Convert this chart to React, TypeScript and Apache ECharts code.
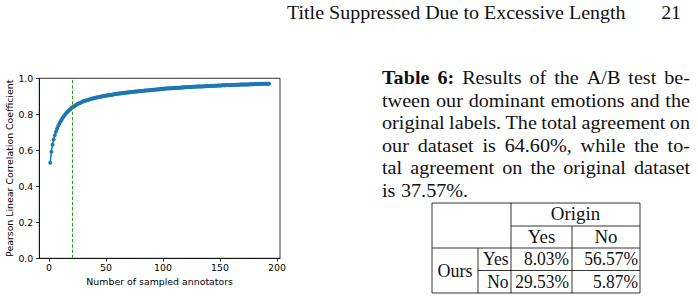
import React, { useEffect, useRef } from "react";
import * as echarts from "echarts";

// ---- chart data ----
const correlation: number[] = [
  0.531, 0.592, 0.631, 0.660, 0.683, 0.703, 0.720, 0.735, 0.748, 0.760,
  0.771, 0.781, 0.790, 0.798, 0.806, 0.813, 0.819, 0.825, 0.831, 0.836,
  0.841, 0.845, 0.849, 0.853, 0.857, 0.860, 0.863, 0.866, 0.869, 0.872,
  0.874, 0.876, 0.878, 0.880, 0.882, 0.884, 0.886, 0.888, 0.889, 0.891,
  0.892, 0.894, 0.895, 0.896, 0.898, 0.899, 0.900, 0.901, 0.902, 0.904,
  0.905, 0.906, 0.907, 0.908, 0.909, 0.910, 0.911, 0.912, 0.913, 0.914,
  0.915, 0.916, 0.917, 0.917, 0.918, 0.919, 0.920, 0.921, 0.921, 0.922,
  0.923, 0.924, 0.924, 0.925, 0.926, 0.926, 0.927, 0.928, 0.928, 0.929,
  0.930, 0.930, 0.931, 0.932, 0.932, 0.933, 0.933, 0.934, 0.935, 0.935,
  0.936, 0.936, 0.937, 0.938, 0.938, 0.939, 0.939, 0.940, 0.941, 0.942,
  0.942, 0.943, 0.943, 0.944, 0.944, 0.945, 0.945, 0.945, 0.946, 0.946,
  0.947, 0.947, 0.948, 0.948, 0.948, 0.949, 0.949, 0.950, 0.950, 0.950,
  0.951, 0.951, 0.952, 0.952, 0.952, 0.953, 0.953, 0.953, 0.954, 0.954,
  0.954, 0.955, 0.955, 0.955, 0.956, 0.956, 0.956, 0.957, 0.957, 0.957,
  0.958, 0.958, 0.958, 0.958, 0.959, 0.959, 0.959, 0.960, 0.960, 0.960,
  0.960, 0.961, 0.961, 0.961, 0.961, 0.962, 0.962, 0.962, 0.962, 0.963,
  0.963, 0.963, 0.963, 0.964, 0.964, 0.964, 0.964, 0.965, 0.965, 0.965,
  0.965, 0.966, 0.966, 0.966, 0.966, 0.967, 0.967, 0.967, 0.967, 0.968,
  0.968, 0.968, 0.968, 0.969, 0.969, 0.969, 0.969, 0.969, 0.970, 0.970,
  0.970, 0.970, 0.970,
];
const firstAnnotatorCount = 1;
const thresholdAnnotators = 20;
const xTickValues = [0, 50, 100, 150, 200];
const yTickValues = [0, 0.2, 0.4, 0.6, 0.8, 1.0];
const xAxisTitle = "Number of sampled annotators";
const yAxisTitle = "Pearson Linear Correlation Coefficient";

// ---- page text ----
const headerTitle = "Title Suppressed Due to Excessive Length";
const headerPage = "21";
const captionLead = "Table 6:";
const captionLines = [
  "Results of the A/B test be-",
  "tween our dominant emotions and the",
  "original labels. The total agreement on",
  "our dataset is 64.60%, while the to-",
  "tal agreement on the original dataset",
  "is 37.57%.",
];
const tableColGroup = "Origin";
const tableCols = ["Yes", "No"];
const tableRowGroup = "Ours";
const tableRows = ["Yes", "No"];
const tableValues = [
  ["8.03%", "56.57%"],
  ["29.53%", "5.87%"],
];

const SERIF = "Liberation Serif";
const SANS = "DejaVu Sans";
const FS = 18;

function measure(text: string, bold: boolean): number {
  const c = document.createElement("canvas").getContext("2d")!;
  c.font = `${bold ? "bold " : ""}${FS}px "${SERIF}"`;
  return c.measureText(text).width;
}

function txt(text: string, x: number, y: number, opts: any = {}) {
  return {
    type: "text",
    x,
    y,
    scaleX: opts.scaleX ?? 1,
    silent: true,
    style: {
      text,
      fontSize: FS,
      fontFamily: SERIF,
      fontWeight: opts.bold ? "bold" : "normal",
      fill: "#111",
      align: opts.align ?? "left",
      verticalAlign: "middle",
    },
  };
}

function buildGraphics(): any[] {
  const els: any[] = [];
  // header
  const hw = measure(headerTitle, false);
  els.push(txt(headerTitle, 287, 13, { scaleX: 339 / hw }));
  els.push(txt(headerPage, 681, 13, { align: "right", scaleX: 1.1 }));

  // caption, justified
  const left = 382;
  const right = 690;
  const s = 1.12;
  const lh = 22.5;
  captionLines.forEach((line, li) => {
    const words = line.split(" ").map((t) => ({ t, b: false }));
    if (li === 0) words.unshift(...captionLead.split(" ").map((t) => ({ t, b: true })));
    const widths = words.map((w) => measure(w.t, w.b) * s);
    const total = widths.reduce((a, b) => a + b, 0);
    const isLast = li === captionLines.length - 1;
    const gap = isLast ? 5.5 : (right - left - total) / (words.length - 1);
    let x = left;
    words.forEach((w, i) => {
      els.push(txt(w.t, x, 78 + li * lh, { bold: w.b, scaleX: s }));
      x += widths[i] + gap;
    });
  });

  // table
  const L = 432, R = 640, T = 203, B = 293;
  const xA = 478, xB = 511, xC = 572;
  const yA = 226, yB = 248, yC = 270.5;
  const ls = { stroke: "#000", lineWidth: 0.8 };
  const line = (x1: number, y1: number, x2: number, y2: number) => ({
    type: "line",
    silent: true,
    shape: { x1, y1, x2, y2 },
    style: ls,
  });
  els.push({ type: "rect", silent: true, shape: { x: L, y: T, width: R - L, height: B - T }, style: { fill: "none", ...ls } });
  els.push(line(xB, yA, R, yA));
  els.push(line(L, yB, R, yB));
  els.push(line(xA, yC, R, yC));
  els.push(line(xA, yB, xA, B));
  els.push(line(xB, T, xB, B));
  els.push(line(xC, yA, xC, B));

  const ts = 0.97;
  els.push(txt(tableColGroup, (xB + R) / 2, (T + yA) / 2, { align: "center", scaleX: 1.05 }));
  els.push(txt(tableCols[0], (xB + xC) / 2, (yA + yB) / 2, { align: "center", scaleX: 1.05 }));
  els.push(txt(tableCols[1], (xC + R) / 2, (yA + yB) / 2, { align: "center", scaleX: 1.05 }));
  els.push(txt(tableRowGroup, (L + xA) / 2, (yB + B) / 2, { align: "center", scaleX: 1.0 }));
  const rowY = [(yB + yC) / 2, (yC + B) / 2];
  tableRows.forEach((r, i) => {
    els.push(txt(r, 508.5, rowY[i], { align: "right", scaleX: ts }));
    els.push(txt(tableValues[i][0], xC - 3, rowY[i], { align: "right", scaleX: ts }));
    els.push(txt(tableValues[i][1], R - 2, rowY[i], { align: "right", scaleX: ts }));
  });
  return els;
}

export default function App() {
  const ref = useRef<HTMLDivElement>(null);
  useEffect(() => {
    if (!ref.current) return;
    const chart = echarts.init(ref.current, null, { renderer: "svg" });
    const data = correlation.map((v, i) => [firstAnnotatorCount + i, v]);
    const axisText = { color: "#000", fontSize: 9.4, fontFamily: SANS };
    const axisLine = { show: true, onZero: false, lineStyle: { color: "#000", width: 0.8 } };
    chart.setOption({
      animation: false,
      backgroundColor: "#fff",
      grid: {
        left: 39.3,
        top: 78.3,
        width: 240.7,
        height: 180,
        show: true,
        borderColor: "#000",
        borderWidth: 0.8,
        backgroundColor: "transparent",
      },
      xAxis: {
        type: "value",
        min: -8.6,
        max: 202.6,
        name: xAxisTitle,
        nameLocation: "middle",
        nameGap: 16,
        nameTextStyle: axisText,
        axisLine,
        axisTick: { show: true, inside: false, length: 3.3, lineStyle: { color: "#000", width: 0.8 }, customValues: xTickValues },
        axisLabel: { ...axisText, margin: 5, customValues: xTickValues },
        splitLine: { show: false },
      },
      yAxis: {
        type: "value",
        min: 0,
        max: 1,
        interval: 0.2,
        name: yAxisTitle,
        nameLocation: "middle",
        nameRotate: 90,
        nameGap: 25,
        nameTextStyle: axisText,
        axisLine,
        axisTick: { show: true, inside: false, length: 3.3, lineStyle: { color: "#000", width: 0.8 }, customValues: yTickValues },
        axisLabel: { ...axisText, margin: 6, customValues: yTickValues, formatter: (v: number) => v.toFixed(1) },
        splitLine: { show: false },
      },
      series: [
        {
          type: "line",
          data,
          symbol: "circle",
          symbolSize: 4,
          itemStyle: { color: "#1f77b4" },
          lineStyle: { color: "#1f77b4", width: 1.5 },
          emphasis: { disabled: true },
          markLine: {
            silent: true,
            symbol: ["none", "none"],
            label: { show: false },
            lineStyle: { color: "#2ca02c", type: [3.5, 1.8], width: 1 },
            data: [{ xAxis: thresholdAnnotators }],
          },
        },
      ],
      graphic: buildGraphics(),
    });
    return () => chart.dispose();
  }, []);
  return (
    <div
      ref={ref}
      style={{ position: "absolute", left: 0, top: 0, width: 698, height: 301, background: "#fff" }}
    />
  );
}
